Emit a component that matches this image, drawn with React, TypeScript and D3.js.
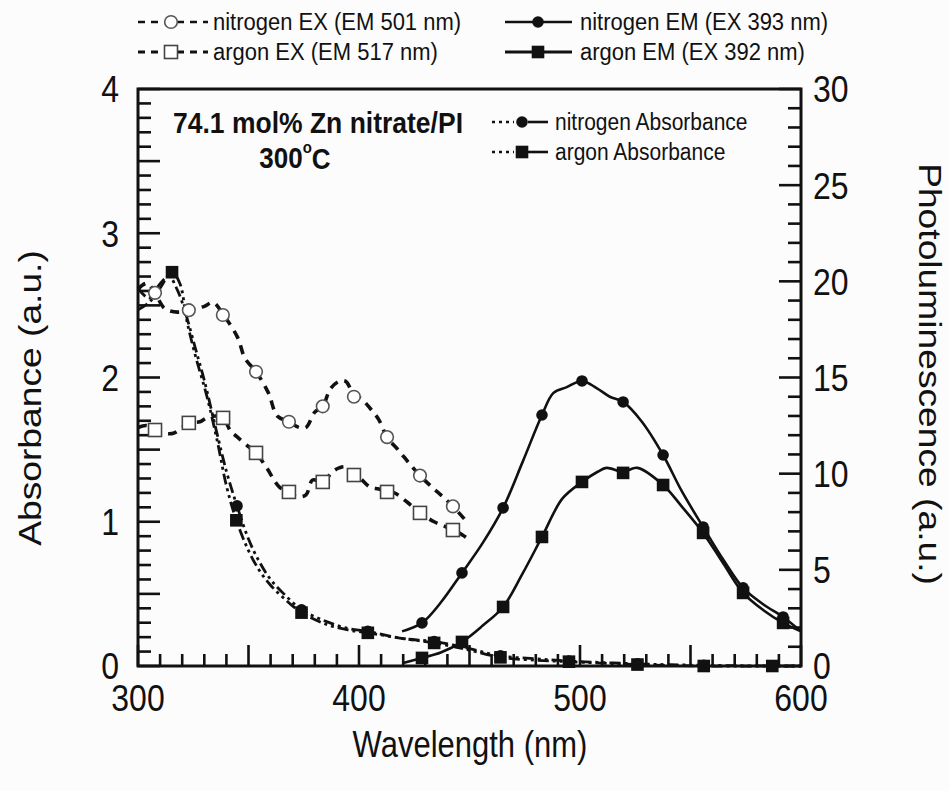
import React from 'react';
import * as d3 from 'd3';

// ---------- tick labels ----------
const xTickLabels = [300, 400, 500, 600];
const absTickLabels = [0, 1, 2, 3, 4];
const plTickLabels = [0, 5, 10, 15, 20, 25, 30];

// ---------- nitrogen EX (EM 501 nm), right axis ----------
const nEXLine: [number, number][] = [
  [300, 19.6], [304, 19.9], [307.7, 19.4], [312, 18.6], [318, 18.4], [323, 18.5], [330, 18.7],
  [334, 18.9], [338.4, 18.3], [345, 17.1], [348.4, 16.0], [353.4, 15.3], [359, 14.2], [363, 13.0],
  [368.3, 12.7], [373, 12.4], [376, 12.4], [380, 13.2], [383.6, 13.5], [387, 14.4], [391, 14.8],
  [394, 14.8], [397.7, 14.1], [401, 13.9], [405, 13.4], [409, 12.8], [412.7, 11.9], [418, 11.2],
  [423, 10.5], [427.6, 9.9], [433, 9.3], [437, 8.9], [442.5, 8.3], [448, 7.6],
];
const nEXMarks: [number, number][] = [
  [307.7, 19.4], [323, 18.5], [338.4, 18.25], [353.4, 15.3], [368.3, 12.7], [383.6, 13.5],
  [397.7, 14.0], [412.7, 11.9], [427.6, 9.9], [442.5, 8.3],
];

// ---------- argon EX (EM 517 nm), right axis ----------
const aEXLine: [number, number][] = [
  [300, 12.4], [304, 12.5], [307.7, 12.27], [312, 12.1], [316, 12.1], [320, 12.4], [323, 12.64],
  [328, 12.7], [331, 12.9], [335, 13.0], [338.5, 12.9], [342, 12.2], [345, 11.9], [349, 11.5],
  [353.4, 11.08], [358, 10.35], [364, 9.3], [368.3, 9.05], [372, 8.8], [376, 8.9], [379, 9.67],
  [383.6, 9.57], [388, 10.1], [391, 10.3], [394, 10.35], [397.7, 9.93], [401, 9.7], [405, 9.3],
  [409, 9.2], [412.7, 9.05], [416, 9.0], [422, 8.5], [427.6, 7.96], [434, 7.5], [438, 7.3],
  [442.5, 7.07], [447, 6.8], [450.7, 6.5],
];
const aEXMarks: [number, number][] = [
  [307.7, 12.27], [323, 12.64], [338.5, 12.9], [353.4, 11.08], [368.3, 9.05], [383.6, 9.57],
  [397.7, 9.93], [412.7, 9.05], [427.6, 7.96], [442.5, 7.07],
];

// ---------- nitrogen EM (EX 393 nm), right axis ----------
const nEMLine: [number, number][] = [
  [419.5, 1.8], [428.5, 2.24], [437, 3.3], [446.6, 4.84], [456, 6.4], [465.2, 8.22], [474, 10.6],
  [482.8, 13.05], [488, 14.2], [494, 14.5], [500.9, 14.82], [507.5, 14.45], [513.5, 14.0],
  [519.5, 13.73], [528, 12.7], [537.6, 10.97], [546, 9.1], [555.7, 7.23], [565, 5.5],
  [573.8, 4.06], [583, 3.2], [591.9, 2.55], [600, 1.8],
];
const nEMMarks: [number, number][] = [
  [428.5, 2.24], [446.6, 4.84], [465.2, 8.22], [482.8, 13.05], [500.9, 14.82], [519.5, 13.73],
  [537.6, 10.97], [555.7, 7.23], [573.8, 4.06], [591.9, 2.55],
];

// ---------- argon EM (EX 392 nm), right axis ----------
const aEMLine: [number, number][] = [
  [420, 0.15], [428.5, 0.42], [437, 0.7], [446.6, 1.25], [456, 2.1], [465.2, 3.07], [474, 4.8],
  [482.8, 6.71], [492, 8.7], [500.9, 9.57], [508, 10.1], [512, 10.3], [519.5, 10.1], [526, 10.3],
  [537.6, 9.41], [546, 8.3], [555.7, 6.92], [565, 5.3], [573.8, 3.8], [583, 2.9], [591.9, 2.24],
  [600, 1.8],
];
const aEMMarks: [number, number][] = [
  [428.5, 0.42], [446.6, 1.25], [465.2, 3.07], [482.8, 6.71], [500.9, 9.57], [519.5, 10.04],
  [537.6, 9.41], [555.7, 6.92], [573.8, 3.8], [591.9, 2.24],
];

// ---------- nitrogen Absorbance, left axis ----------
const nAbsLine: [number, number][] = [
  [300, 2.62], [305, 2.55], [310, 2.65], [314, 2.7], [318, 2.6], [322, 2.42], [326, 2.2],
  [330, 1.98], [335, 1.66], [340, 1.35], [344.8, 1.11], [350, 0.88], [355, 0.72], [360, 0.6],
  [366, 0.5], [374, 0.39], [385, 0.31], [395, 0.26], [404, 0.24], [420, 0.19], [434, 0.17],
  [450, 0.12], [464, 0.07], [480, 0.05], [495, 0.035], [526, 0.015], [556, 0.005], [587, 0.0],
  [600, 0.0],
];
const nAbsMarks: [number, number][] = [
  [344.8, 1.11], [374, 0.39], [404, 0.24], [434, 0.17], [464, 0.07], [495, 0.035], [526, 0.015],
  [556, 0.005], [587, 0.0],
];

// ---------- argon Absorbance, left axis ----------
const aAbsLine: [number, number][] = [
  [300, 2.47], [305, 2.52], [310, 2.62], [315.4, 2.73], [319, 2.65], [322, 2.4], [326, 2.15],
  [331, 1.88], [336, 1.55], [340, 1.25], [344.5, 1.01], [350, 0.8], [355, 0.66], [360, 0.56],
  [366, 0.47], [374, 0.37], [385, 0.29], [395, 0.25], [404, 0.23], [420, 0.19], [434, 0.16],
  [450, 0.11], [464, 0.06], [480, 0.04], [495, 0.03], [526, 0.01], [556, 0.0], [587, 0.0],
  [600, 0.0],
];
const aAbsMarks: [number, number][] = [
  [315.4, 2.73], [344.5, 1.01], [374, 0.37], [404, 0.23], [434, 0.16], [464, 0.06], [495, 0.03],
  [526, 0.01], [556, 0.0], [587, 0.0],
];

const W = 949;
const H = 791;
const L = 138, R = 801, T = 89, B = 666;
const FONT = '"Liberation Sans", Arial, Helvetica, sans-serif';

const x = d3.scaleLinear().domain([300, 600]).range([L, R]);
const yAbs = d3.scaleLinear().domain([0, 4]).range([B, T]);
const yPL = d3.scaleLinear().domain([0, 30]).range([B, T]);

const mkLine = (ys: d3.ScaleLinear<number, number>) =>
  d3.line<[number, number]>().x(d => x(d[0])).y(d => ys(d[1])).curve(d3.curveCatmullRom.alpha(0.5));

const ABS_DASH = '11,4,3,4,3,4';
const EX_DASH = '9,7';

function Txt(props: {
  x: number; y: number; children: React.ReactNode; size: number; anchor?: string;
  weight?: string | number; rotate?: number; sx?: number; sy?: number;
}) {
  const { x: tx, y: ty, size, anchor = 'start', weight = 'normal', rotate = 0, sx = 1, sy = 1 } = props;
  return (
    <text
      transform={`translate(${tx},${ty}) rotate(${rotate}) scale(${sx},${sy})`}
      fontFamily={FONT}
      fontSize={size}
      fontWeight={weight as any}
      textAnchor={anchor as any}
      dominantBaseline="central"
      fill="#111"
    >
      {props.children}
    </text>
  );
}

function OpenCircle({ cx, cy }: { cx: number; cy: number }) {
  return <circle cx={cx} cy={cy} r={6.3} fill="#fff" stroke="#555" strokeWidth={1.6} />;
}
function OpenSquare({ cx, cy }: { cx: number; cy: number }) {
  return <rect x={cx - 6.5} y={cy - 6.5} width={13} height={13} fill="#fff" stroke="#444" strokeWidth={1.6} />;
}
function FilledCircle({ cx, cy }: { cx: number; cy: number }) {
  return <circle cx={cx} cy={cy} r={5.8} fill="#111" />;
}
function FilledSquare({ cx, cy }: { cx: number; cy: number }) {
  return <rect x={cx - 6.3} y={cy - 6.3} width={12.6} height={12.6} fill="#111" />;
}

export default function App() {
  const lineAbs = mkLine(yAbs);
  const linePL = mkLine(yPL);

  const xMinor = d3.range(300, 601, 10);
  const absMinor = d3.range(0, 41, 1).map(v => v / 10);
  const plMinor = d3.range(0, 31, 1);

  return (
    <svg width={W} height={H} style={{ position: 'absolute', left: 0, top: 0, background: '#fcfcfc' }}>
      <rect x={0} y={0} width={W} height={H} fill="#fcfcfc" />

      {/* ticks */}
      <g stroke="#111" strokeWidth={2.6}>
        {xMinor.map(v => {
          const major = v % 50 === 0;
          return <line key={'xt' + v} x1={x(v)} x2={x(v)} y1={B} y2={B - (major ? 21 : 12)} />;
        })}
        {absMinor.map(v => {
          const major = Math.round(v * 10) % 5 === 0;
          return <line key={'at' + v} x1={L} x2={L + (major ? 22 : 13)} y1={yAbs(v)} y2={yAbs(v)} />;
        })}
        {plMinor.map(v => {
          const major = v % 5 === 0;
          return <line key={'pt' + v} x1={R} x2={R - (major ? 22 : 13)} y1={yPL(v)} y2={yPL(v)} />;
        })}
      </g>

      {/* lines */}
      <g fill="none" stroke="#111">
        <path d={lineAbs(nAbsLine) || ''} strokeWidth={2.8} strokeDasharray={ABS_DASH} />
        <path d={lineAbs(aAbsLine) || ''} strokeWidth={2.8} strokeDasharray={ABS_DASH} />
        <path d={linePL(nEXLine) || ''} strokeWidth={3.6} strokeDasharray={EX_DASH} />
        <path d={linePL(aEXLine) || ''} strokeWidth={3.6} strokeDasharray={EX_DASH} />
        <path d={linePL(nEMLine) || ''} strokeWidth={2.6} />
        <path d={linePL(aEMLine) || ''} strokeWidth={2.6} />
      </g>

      {/* markers */}
      <g>
        {nEXMarks.map((d, i) => <OpenCircle key={'nex' + i} cx={x(d[0])} cy={yPL(d[1])} />)}
        {aEXMarks.map((d, i) => <OpenSquare key={'aex' + i} cx={x(d[0])} cy={yPL(d[1])} />)}
        {nAbsMarks.map((d, i) => <FilledCircle key={'nab' + i} cx={x(d[0])} cy={yAbs(d[1])} />)}
        {aAbsMarks.map((d, i) => <FilledSquare key={'aab' + i} cx={x(d[0])} cy={yAbs(d[1])} />)}
        {nEMMarks.map((d, i) => <FilledCircle key={'nem' + i} cx={x(d[0])} cy={yPL(d[1])} />)}
        {aEMMarks.map((d, i) => <FilledSquare key={'aem' + i} cx={x(d[0])} cy={yPL(d[1])} />)}
      </g>

      {/* frame */}
      <rect x={L} y={T} width={R - L} height={B - T} fill="none" stroke="#111" strokeWidth={3} />

      {/* tick labels */}
      {xTickLabels.map(v => (
        <Txt key={'xl' + v} x={x(v)} y={698} size={32} anchor="middle" sy={1.18}>{v}</Txt>
      ))}
      {absTickLabels.map(v => (
        <Txt key={'al' + v} x={119} y={yAbs(v)} size={32} anchor="end" sy={1.18}>{v}</Txt>
      ))}
      {plTickLabels.map(v => (
        <Txt key={'pl' + v} x={813} y={yPL(v)} size={32} anchor="start" sy={1.18}>{v}</Txt>
      ))}

      {/* axis titles */}
      <Txt x={470} y={744} size={31} anchor="middle" sy={1.18}>Wavelength (nm)</Txt>
      <Txt x={30} y={398} size={31} anchor="middle" rotate={-90} sx={1.2}>Absorbance (a.u.)</Txt>
      <Txt x={930} y={374} size={31} anchor="middle" rotate={90} sx={1.2}>Photoluminescence (a.u.)</Txt>

      {/* annotation */}
      <Txt x={318} y={123} size={26.5} anchor="middle" weight="bold" sy={1.12}>74.1 mol% Zn nitrate/PI</Txt>
      <text transform="translate(295,158) scale(1,1.12)" fontFamily={FONT} fontSize={26} fontWeight="bold"
        textAnchor="middle" dominantBaseline="central" fill="#111">
        300<tspan fontSize={15} dy={-10}>o</tspan><tspan dy={10}>C</tspan>
      </text>

      {/* inner legend */}
      <g stroke="#111" fill="none">
        <line x1={492} x2={514} y1={122} y2={122} strokeWidth={2.6} strokeDasharray="3,4" />
        <line x1={528} x2={548} y1={122} y2={122} strokeWidth={2.6} />
        <line x1={492} x2={514} y1={152} y2={152} strokeWidth={2.6} strokeDasharray="3,4" />
        <line x1={528} x2={548} y1={152} y2={152} strokeWidth={2.6} />
      </g>
      <FilledCircle cx={522} cy={122} />
      <FilledSquare cx={522} cy={152} />
      <Txt x={555} y={122} size={21} sy={1.12}>nitrogen Absorbance</Txt>
      <Txt x={555} y={152} size={21} sy={1.12}>argon Absorbance</Txt>

      {/* top legend */}
      <g stroke="#111" fill="none">
        <line x1={138} x2={208} y1={22} y2={22} strokeWidth={2.4} strokeDasharray="7,6" />
        <line x1={138} x2={208} y1={52} y2={52} strokeWidth={3} strokeDasharray="7,6" />
        <line x1={505} x2={572} y1={22} y2={22} strokeWidth={2.4} />
        <line x1={505} x2={572} y1={52} y2={52} strokeWidth={3} />
      </g>
      <OpenCircle cx={171} cy={22} />
      <OpenSquare cx={171} cy={52} />
      <FilledCircle cx={538} cy={22} />
      <FilledSquare cx={538} cy={52} />
      <Txt x={213} y={22} size={22} sy={1.12}>nitrogen EX (EM 501 nm)</Txt>
      <Txt x={213} y={52} size={22} sy={1.12}>argon EX (EM 517 nm)</Txt>
      <Txt x={580} y={22} size={22} sy={1.12}>nitrogen EM (EX 393 nm)</Txt>
      <Txt x={580} y={52} size={22} sy={1.12}>argon EM (EX 392 nm)</Txt>
    </svg>
  );
}
